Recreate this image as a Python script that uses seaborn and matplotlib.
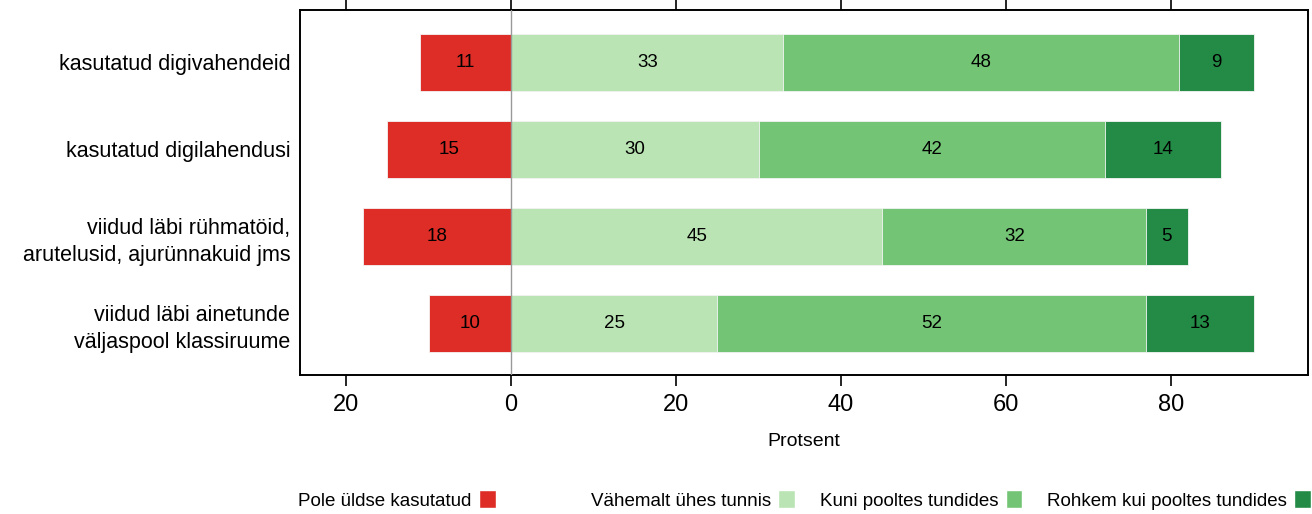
import numpy as np
import pandas as pd
import seaborn as sns
import matplotlib.pyplot as plt
from matplotlib.patches import Patch

categories = [
    "kasutatud digivahendeid",
    "kasutatud digilahendusi",
    "viidud läbi rühmatöid,\narutelusid, ajurünnakuid jms",
    "viidud läbi ainetunde\nväljaspool klassiruume",
]
pole = [11, 15, 18, 10]
vahemalt = [33, 30, 45, 25]
kuni = [48, 42, 32, 52]
rohkem = [9, 14, 5, 13]

series_names = ["Pole üldse kasutatud", "Vähemalt ühes tunnis",
                "Kuni pooltes tundides", "Rohkem kui pooltes tundides"]
colors = ["#DE2D26", "#BAE4B3", "#74C476", "#238B45"]
xticks = [-20, 0, 20, 40, 60, 80]

df = pd.DataFrame({"kat": categories, "pole": pole, "vahemalt": vahemalt,
                   "kuni": kuni, "rohkem": rohkem})
df["c1"] = df["vahemalt"]
df["c2"] = df["c1"] + df["kuni"]
df["c3"] = df["c2"] + df["rohkem"]
df["neg"] = -df["pole"]

sns.set_style("white")
plt.rcParams["font.family"] = ["Liberation Sans", "DejaVu Sans"]
plt.rcParams.update({"text.color": "black", "axes.labelcolor": "black",
                     "xtick.color": "black", "ytick.color": "black"})

fig = plt.figure(figsize=(13.12, 5.14), dpi=100)
ax = fig.add_axes([300 / 1312, 1 - 375 / 514, 1008 / 1312, 365 / 514])

w = 0.66
bar_kw = dict(width=w, saturation=1, edgecolor="#f4f4f4", linewidth=0.6, ax=ax)
sns.barplot(data=df, x="c3", y="kat", color=colors[3], **bar_kw)
sns.barplot(data=df, x="c2", y="kat", color=colors[2], **bar_kw)
sns.barplot(data=df, x="c1", y="kat", color=colors[1], **bar_kw)
sns.barplot(data=df, x="neg", y="kat", color=colors[0], **bar_kw)

ax.axvline(0, color="#999999", lw=1, zorder=5)

# segment labels
fs = 13.5
for i, row in df.iterrows():
    ax.text(-row["pole"] / 2, i, str(row["pole"]), ha="center", va="center", fontsize=fs)
    ax.text(row["c1"] / 2, i, str(row["vahemalt"]), ha="center", va="center", fontsize=fs)
    ax.text((row["c1"] + row["c2"]) / 2, i, str(row["kuni"]), ha="center", va="center", fontsize=fs)
    ax.text((row["c2"] + row["c3"]) / 2, i, str(row["rohkem"]), ha="center", va="center", fontsize=fs)

ax.set_xlim(-25.6, 96.6)
ax.set_ylim(3.59, -0.6)
ax.set_xticks(xticks)
ax.set_xticklabels([str(abs(t)) for t in xticks], fontsize=17)
ax.tick_params(axis="x", which="both", direction="out", length=8, width=1.2,
               top=True, bottom=True, labeltop=False, color="black", pad=6)
ax.tick_params(axis="y", length=0, pad=7, labelsize=15.5)
for lab in ax.get_yticklabels():
    lab.set_linespacing(1.35)
ax.set_xlabel("Protsent", fontsize=14, labelpad=12)
ax.set_ylabel("")
for s in ax.spines.values():
    s.set_color("black")
    s.set_linewidth(1.4)

h_red = [Patch(facecolor=colors[0])]
h_grn = [Patch(facecolor=c) for c in colors[1:]]
leg_kw = dict(frameon=False, markerfirst=False, fontsize=13.5, handlelength=0.9,
              handleheight=1.1, handletextpad=0.4, borderaxespad=0, borderpad=0)
fig.legend(h_red, series_names[:1], loc="center left",
           bbox_to_anchor=(298 / 1312, 1 - 500 / 514), **leg_kw)
fig.legend(h_grn, series_names[1:], loc="center right", ncol=3, columnspacing=1.3,
           bbox_to_anchor=(1311 / 1312, 1 - 500 / 514), **leg_kw)

fig.savefig("out.png", dpi=100)
